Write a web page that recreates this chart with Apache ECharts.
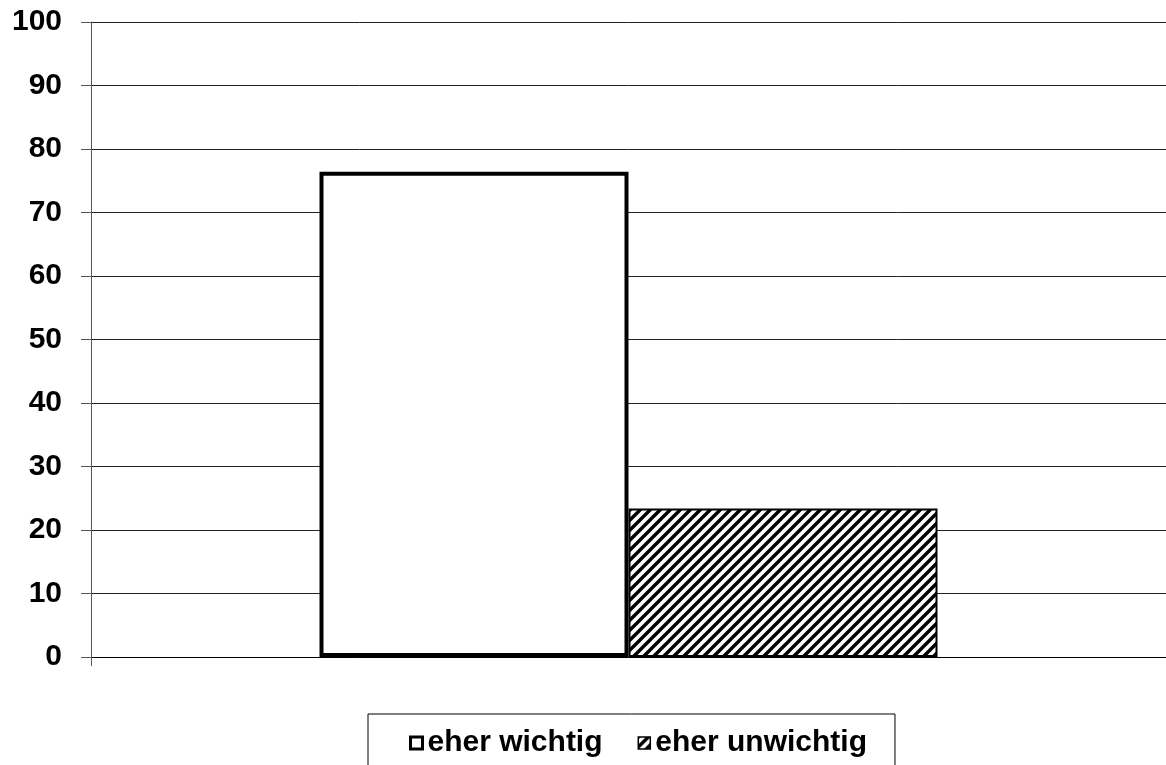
<!DOCTYPE html>
<html><head><meta charset="utf-8">
<script src="https://cdn.jsdelivr.net/npm/echarts@6/dist/echarts.min.js"></script>
<style>html,body{margin:0;padding:0;background:#fff}#c{width:1166px;height:765px}</style>
</head><body><div id="c"></div>
<script>
var categories = [''];
var seriesNames = ['eher wichtig', 'eher unwichtig'];
var valuesWichtig = [76.4];
var valuesUnwichtig = [23.4];
var yTicks = [0, 10, 20, 30, 40, 50, 60, 70, 80, 90, 100];

function hatch() {
  var s = 10;
  var c = document.createElement('canvas');
  c.width = s; c.height = s;
  var g = c.getContext('2d');
  g.fillStyle = '#fff'; g.fillRect(0, 0, s, s);
  g.strokeStyle = '#000'; g.lineWidth = 3.4;
  g.beginPath();
  g.moveTo(-2, s + 2); g.lineTo(s + 2, -2);
  g.moveTo(-2, 2); g.lineTo(2, -2);
  g.moveTo(s - 2, s + 2); g.lineTo(s + 2, s - 2);
  g.stroke();
  return c;
}

var pattern = {image: hatch(), repeat: 'repeat'};
var chart = echarts.init(document.getElementById('c'), null, {renderer: 'canvas'});
var font = 'Liberation Sans, Arial, sans-serif';
chart.setOption({
  animation: false,
  grid: {left: 91, right: -4, top: 22, bottom: 108},
  xAxis: {
    type: 'category', data: categories,
    axisLine: {lineStyle: {color: '#000', width: 1}},
    axisTick: {show: true, length: 9, lineStyle: {color: '#555'}},
    axisLabel: {show: false}
  },
  yAxis: {
    type: 'value', min: yTicks[0], max: yTicks[yTicks.length - 1], interval: 10,
    axisLine: {show: true, lineStyle: {color: '#555', width: 1}},
    axisTick: {show: true, length: 10, lineStyle: {color: '#555'}},
    axisLabel: {margin: 29, color: '#000', fontSize: 30, fontWeight: 'bold', fontFamily: font},
    splitLine: {lineStyle: {color: '#222', width: 1}}
  },
  legend: {
    data: [
      {name: seriesNames[0], icon: 'rect', itemStyle: {color: '#fff', borderColor: '#000', borderWidth: 3}},
      {name: seriesNames[1], icon: 'rect', itemStyle: {color: pattern, borderColor: '#000', borderWidth: 1.5}}
    ],
    left: 368, top: 714,
    padding: [14, 28, 20, 41], borderColor: '#000', borderWidth: 1,
    itemWidth: 12, itemHeight: 12, itemGap: 35,
    textStyle: {color: '#000', fontSize: 30, fontWeight: 'bold', fontFamily: font}
  },
  series: [
    {name: seriesNames[0], type: 'bar', data: valuesWichtig, barWidth: 309, barGap: '0%',
     itemStyle: {color: '#fff', borderColor: '#000', borderWidth: 4}},
    {name: seriesNames[1], type: 'bar', data: valuesUnwichtig, barWidth: 309, barGap: '0%',
     itemStyle: {color: pattern, borderColor: '#000', borderWidth: 2}}
  ]
});
</script></body></html>
